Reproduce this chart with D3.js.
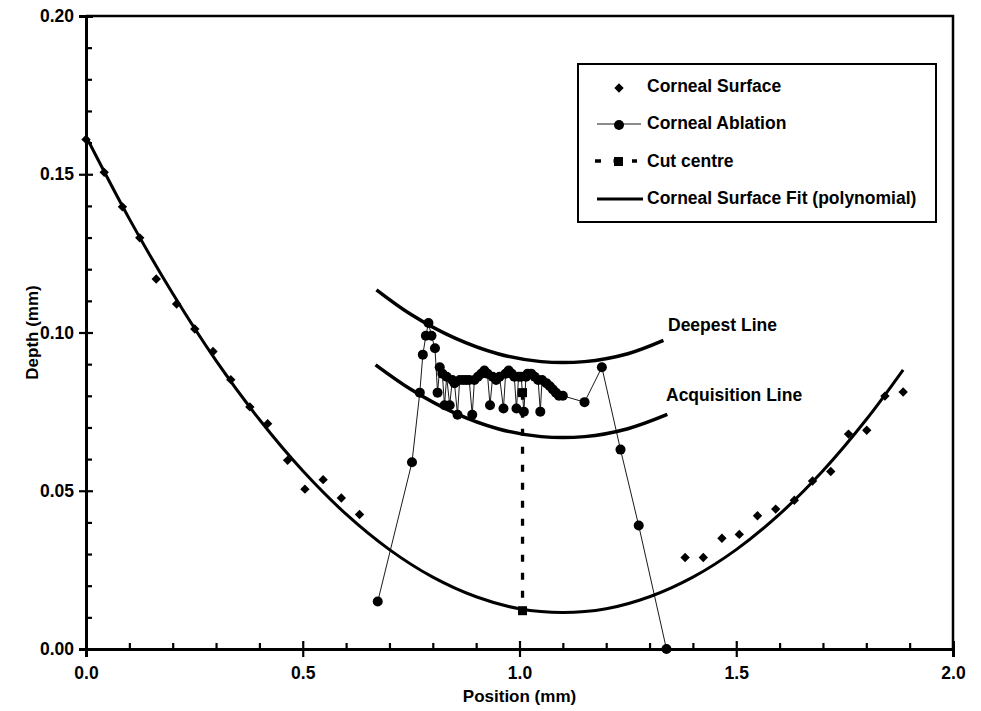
<!DOCTYPE html>
<html>
<head>
<meta charset="utf-8">
<script src="https://cdn.jsdelivr.net/npm/d3@7/dist/d3.min.js"></script>
<style>
   body { margin: 0; background: #fff; }
   text { font-family: "Liberation Sans", Arial, sans-serif; font-weight: bold; fill: #000; }
</style>
</head>
<body>
<div id="chart"></div>
<script>

   var SVG_WIDTH = 981; // svg width
   var SVG_HEIGHT = 711; // svg height

   // plot area in pixels
   var LEFT = 86, RIGHT = 953, TOP = 16, BOTTOM = 649;

   // corneal surface measurements (diamonds)
   var surfaceX = [0.000, 0.042, 0.084, 0.124, 0.162, 0.209, 0.251, 0.293, 0.334, 0.378,
      0.419, 0.465, 0.505, 0.547, 0.589, 0.631,
      1.382, 1.424, 1.467, 1.507, 1.549, 1.591, 1.634, 1.676, 1.718, 1.759, 1.801, 1.843, 1.885];
   var surfaceY = [0.1610, 0.1506, 0.1397, 0.1299, 0.1169, 0.1090, 0.1011, 0.0940, 0.0851, 0.0765,
      0.0712, 0.0596, 0.0505, 0.0535, 0.0477, 0.0425,
      0.0289, 0.0289, 0.0350, 0.0362, 0.0421, 0.0442, 0.0470, 0.0531, 0.0561, 0.0679, 0.0691, 0.0799, 0.0812];

   // corneal ablation profile (circles joined by a thin line)
   var ablationX = [0.673, 0.752, 0.770, 0.777, 0.784, 0.790, 0.797, 0.805, 0.811, 0.816,
      0.822, 0.827, 0.832, 0.839, 0.845, 0.850, 0.857, 0.862, 0.870, 0.877,
      0.884, 0.891, 0.896, 0.904, 0.912, 0.919, 0.926, 0.932, 0.938, 0.946,
      0.954, 0.963, 0.968, 0.975, 0.982, 0.988, 0.993, 0.998, 1.004, 1.010,
      1.015, 1.019, 1.027, 1.035, 1.043, 1.048, 1.052, 1.062, 1.070, 1.077,
      1.084, 1.091, 1.100, 1.150, 1.190, 1.233, 1.275, 1.339];
   var ablationY = [0.015, 0.059, 0.081, 0.093, 0.099, 0.103, 0.099, 0.095, 0.081, 0.089,
      0.087, 0.077, 0.086, 0.077, 0.085, 0.084, 0.074, 0.085, 0.085, 0.085,
      0.085, 0.074, 0.085, 0.086, 0.087, 0.088, 0.087, 0.077, 0.086, 0.085,
      0.086, 0.076, 0.087, 0.088, 0.087, 0.086, 0.076, 0.086, 0.086, 0.075,
      0.086, 0.087, 0.087, 0.086, 0.085, 0.075, 0.085, 0.084, 0.083, 0.082,
      0.081, 0.080, 0.080, 0.078, 0.089, 0.063, 0.039, 0.000];

   // cut centre (dashed vertical with squares)
   var cutX = [1.007, 1.007];
   var cutY = [0.081, 0.0121];

   // polynomial fit of the corneal surface
   var fitX = [0.0, 0.1, 0.2, 0.3, 0.4, 0.5, 0.6, 0.7, 0.8, 0.9, 1.0,
      1.1, 1.2, 1.3, 1.4, 1.5, 1.6, 1.7, 1.8, 1.885];
   var fitY = [0.1620, 0.1359, 0.1123, 0.0911, 0.0725, 0.0563, 0.0426, 0.0314, 0.0227, 0.0165, 0.0127,
      0.0115, 0.0127, 0.0165, 0.0227, 0.0314, 0.0426, 0.0563, 0.0725, 0.0882];

   // deepest line and acquisition line
   var deepX = [0.670, 0.75, 0.85, 0.95, 1.05, 1.15, 1.25, 1.332];
   var deepY = [0.1135, 0.1057, 0.0983, 0.0933, 0.0908, 0.0908, 0.0933, 0.0975];
   var acqX = [0.668, 0.75, 0.85, 0.95, 1.05, 1.15, 1.25, 1.341];
   var acqY = [0.0898, 0.0820, 0.0746, 0.0696, 0.0671, 0.0671, 0.0696, 0.0741];

   // tick values
   var xMajor = [0.0, 0.5, 1.0, 1.5, 2.0];
   var yMajor = [0.00, 0.05, 0.10, 0.15, 0.20];

   var legendLabels = ['Corneal Surface', 'Corneal Ablation', 'Cut centre',
      'Corneal Surface Fit (polynomial)'];

   function zip(xs, ys){
      return xs.map(function(d, i){ return [d, ys[i]]; });
   }

   var svg = d3.select('#chart')
      .append('svg')
      .attr('width', SVG_WIDTH)
      .attr('height', SVG_HEIGHT);

   var x = d3.scaleLinear().domain([0, 2]).range([LEFT, RIGHT]);
   var y = d3.scaleLinear().domain([0, 0.2]).range([BOTTOM, TOP]);

   var line = d3.line()
      .x(function(d){ return x(d[0]); })
      .y(function(d){ return y(d[1]); });

   // frame: top and right edges
   svg.append('path')
      .attr('d', 'M' + LEFT + ',' + TOP + 'H' + RIGHT + 'V' + BOTTOM)
      .attr('fill', 'none')
      .attr('stroke', '#000')
      .attr('stroke-width', 2.5);

   // minor ticks (inside only)
   var xMinor = d3.range(0, 21).map(function(i){ return i / 10; })
      .filter(function(d){ return xMajor.indexOf(d) < 0; });
   var yMinor = d3.range(0, 21).map(function(i){ return i / 100; })
      .filter(function(d, i){ return i % 5 != 0; });

   var gx = svg.append('g').attr('transform', 'translate(0,' + BOTTOM + ')');
   gx.call(d3.axisBottom(x).tickValues(xMinor).tickSize(-6).tickFormat(''));
   gx.append('g').call(d3.axisBottom(x).tickValues(xMajor).tickSize(-8).tickFormat(''));
   gx.append('g').call(d3.axisBottom(x).tickValues(xMajor).tickSize(8).tickPadding(10)
      .tickFormat(d3.format('.1f')));

   var gy = svg.append('g').attr('transform', 'translate(' + LEFT + ',0)');
   gy.call(d3.axisLeft(y).tickValues(yMinor).tickSize(-6).tickFormat(''));
   gy.append('g').call(d3.axisLeft(y).tickValues(yMajor).tickSize(-7).tickFormat(''));
   gy.append('g').call(d3.axisLeft(y).tickValues(yMajor).tickSize(7).tickPadding(5)
      .tickFormat(d3.format('.2f')));

   svg.selectAll('.domain').attr('stroke-width', 3);
   svg.selectAll('.tick line').attr('stroke-width', 2.2);
   svg.selectAll('.tick text').style('font-size', '17.5px');

   // axis titles
   svg.append('text')
      .attr('x', x(1))
      .attr('y', 702)
      .attr('text-anchor', 'middle')
      .style('font-size', '17px')
      .text('Position (mm)');

   svg.append('text')
      .attr('transform', 'translate(38,' + y(0.1) + ') rotate(-90)')
      .attr('text-anchor', 'middle')
      .style('font-size', '17px')
      .text('Depth (mm)');

   // polynomial fit
   svg.append('path')
      .datum(zip(fitX, fitY))
      .attr('d', line.curve(d3.curveCatmullRom))
      .attr('fill', 'none')
      .attr('stroke', '#000')
      .attr('stroke-width', 3);

   // deepest and acquisition lines
   [zip(deepX, deepY), zip(acqX, acqY)].forEach(function(pts){
      svg.append('path')
         .datum(pts)
         .attr('d', line.curve(d3.curveCatmullRom))
         .attr('fill', 'none')
         .attr('stroke', '#000')
         .attr('stroke-width', 3.5);
   });

   svg.append('text').attr('x', 668).attr('y', 331).style('font-size', '17.5px').text('Deepest Line');
   svg.append('text').attr('x', 666).attr('y', 401).style('font-size', '17.5px').text('Acquisition Line');

   // corneal surface diamonds
   var diamond = d3.symbol().type(d3.symbolSquare).size(44);
   svg.append('g').selectAll('path')
      .data(zip(surfaceX, surfaceY))
      .enter()
      .append('path')
      .attr('d', diamond)
      .attr('transform', function(d){
         return 'translate(' + x(d[0]) + ',' + y(d[1]) + ') rotate(45)';
      });

   // corneal ablation
   var ablation = zip(ablationX, ablationY);
   svg.append('path')
      .datum(ablation)
      .attr('d', line.curve(d3.curveLinear))
      .attr('fill', 'none')
      .attr('stroke', '#000')
      .attr('stroke-width', 0.9);

   svg.append('g').selectAll('circle')
      .data(ablation)
      .enter()
      .append('circle')
      .attr('cx', function(d){ return x(d[0]); })
      .attr('cy', function(d){ return y(d[1]); })
      .attr('r', 5);

   // cut centre
   var cut = zip(cutX, cutY);
   svg.append('path')
      .datum(cut)
      .attr('d', line.curve(d3.curveLinear))
      .attr('fill', 'none')
      .attr('stroke', '#000')
      .attr('stroke-width', 3.3)
      .attr('stroke-dasharray', '7,11');

   svg.append('g').selectAll('rect')
      .data(cut)
      .enter()
      .append('rect')
      .attr('x', function(d){ return x(d[0]) - 4.5; })
      .attr('y', function(d){ return y(d[1]) - 4.5; })
      .attr('width', 9)
      .attr('height', 9);

   // legend
   var legend = svg.append('g');
   legend.append('rect')
      .attr('x', 578).attr('y', 64)
      .attr('width', 358).attr('height', 158)
      .attr('fill', '#fff')
      .attr('stroke', '#000')
      .attr('stroke-width', 2);

   var rowY = [86, 123, 161, 198];
   legendLabels.forEach(function(label, i){
      legend.append('text')
         .attr('x', 647)
         .attr('y', rowY[i] + 6)
         .style('font-size', '17.5px')
         .text(label);
   });

   legend.append('path')
      .attr('d', diamond)
      .attr('transform', 'translate(619,' + (rowY[0] + 2) + ') rotate(45)');

   legend.append('line')
      .attr('x1', 597).attr('x2', 641)
      .attr('y1', rowY[1] + 1).attr('y2', rowY[1] + 1)
      .attr('stroke', '#000').attr('stroke-width', 0.9);
   legend.append('circle').attr('cx', 619).attr('cy', rowY[1] + 2).attr('r', 5);

   legend.append('line')
      .attr('x1', 595).attr('x2', 637)
      .attr('y1', rowY[2]).attr('y2', rowY[2])
      .attr('stroke', '#000').attr('stroke-width', 3.3)
      .attr('stroke-dasharray', '6,12.5');
   legend.append('rect').attr('x', 614).attr('y', rowY[2] - 4).attr('width', 9).attr('height', 9);

   legend.append('line')
      .attr('x1', 597).attr('x2', 643)
      .attr('y1', rowY[3] + 1).attr('y2', rowY[3] + 1)
      .attr('stroke', '#000').attr('stroke-width', 3);

</script>
</body>
</html>
